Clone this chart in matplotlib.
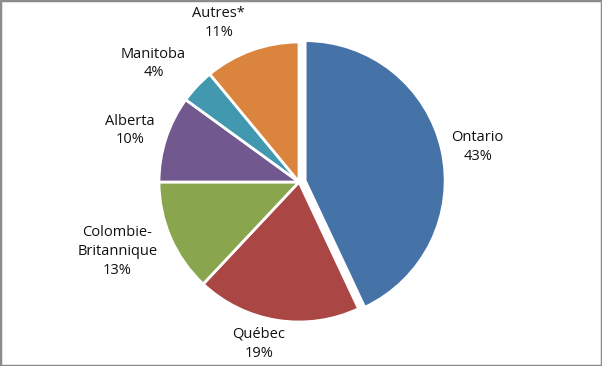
import numpy as np
import matplotlib
matplotlib.use("Agg")
import matplotlib.pyplot as plt
from matplotlib.patches import Rectangle

categories = ["Ontario", "Québec", "Colombie-\nBritannique", "Alberta", "Manitoba", "Autres*"]
values = [43, 19, 13, 10, 4, 11]
colors = ["#4572A7", "#AA4643", "#89A54E", "#71588F", "#4198AF", "#DB843D"]
explode = [0.045, 0, 0, 0, 0, 0]
label_dist = [1.30, 1.19, 1.39, 1.26, 1.34, 1.27]
label_dang = [-1.6, -5.0, -2.4, 1.0, 4.0, 7.0]

plt.rcParams['font.family'] = ['Open Sans', 'DejaVu Sans']

fig = plt.figure(figsize=(6.02, 3.66), dpi=100)
ax = fig.add_axes([0, 0, 1, 1])

wedges, _ = ax.pie(values, colors=colors, explode=explode, startangle=90,
                   counterclock=False, radius=1.0,
                   wedgeprops=dict(edgecolor='white', linewidth=2))

ax.set_xlim(-299/140, 303/140)
ax.set_ylim(-184/140, 182/140)
ax.set_aspect('equal')
ax.axis('off')

for w, cat, v, d, da in zip(wedges, categories, values, label_dist, label_dang):
    mid = np.deg2rad((w.theta1 + w.theta2) / 2 + da)
    x, y = d * np.cos(mid), d * np.sin(mid)
    ax.text(x, y, f"{cat}\n{v}%", ha='center', va='center', fontsize=10.5,
            color='#111111', linespacing=1.35)

fig.patches.append(Rectangle((0, 0), 1, 1, transform=fig.transFigure,
                             fill=False, edgecolor='#8c8c8c', linewidth=2.5))

fig.savefig("out.png", dpi=100)
